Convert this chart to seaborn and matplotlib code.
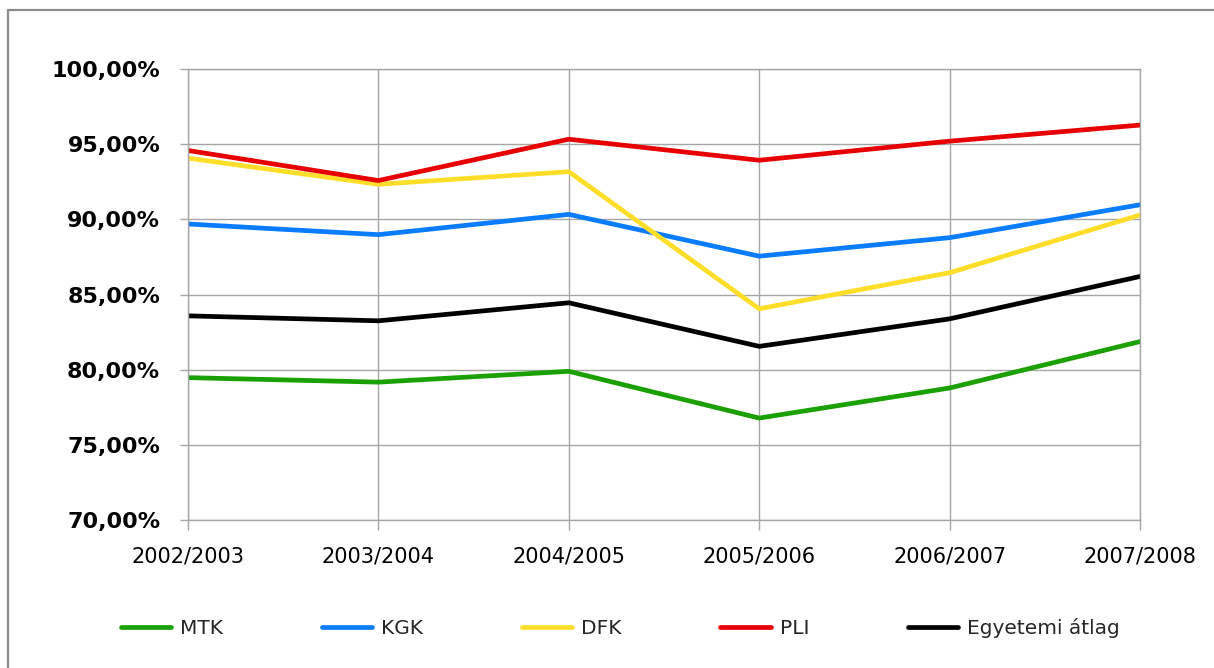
import matplotlib
matplotlib.use("Agg")
import matplotlib.pyplot as plt
import matplotlib.ticker as mticker
from matplotlib.lines import Line2D
import seaborn as sns
import pandas as pd

years = ["2002/2003", "2003/2004", "2004/2005", "2005/2006", "2006/2007", "2007/2008"]
mtk = [79.47, 79.17, 79.89, 76.78, 78.78, 81.87]
kgk = [89.69, 88.98, 90.33, 87.55, 88.78, 90.97]
dfk = [94.07, 92.33, 93.17, 84.05, 86.45, 90.29]
pli = [94.58, 92.58, 95.33, 93.93, 95.20, 96.27]
atlag = [83.58, 83.25, 84.45, 81.55, 83.38, 86.20]

series_names = ["MTK", "KGK", "DFK", "PLI", "Egyetemi átlag"]
series_values = [mtk, kgk, dfk, pli, atlag]
colors = ["#1aa000", "#0a7cff", "#ffde2a", "#e80000", "#000000"]

rows = []
for name, vals in zip(series_names, series_values):
    for i, (y, v) in enumerate(zip(years, vals)):
        rows.append({"pos": i, "year": y, "series": name, "value": v})
df = pd.DataFrame(rows)

sns.set_theme(style="white")
plt.rcParams["font.family"] = ["DejaVu Sans"]

fig = plt.figure(figsize=(12.14, 6.68), dpi=100)
ax = fig.add_axes([188 / 1214, 1 - 520 / 668, (1140 - 188) / 1214, (520 - 69) / 668])

sns.lineplot(data=df, x="pos", y="value", hue="series", hue_order=series_names,
             palette=colors, linewidth=3.4, sort=False, legend=False, ax=ax)

ax.set_xlim(0, len(years) - 1)
ax.set_ylim(70, 100)
ax.set_xticks(range(len(years)))
ax.set_xticklabels(years, fontsize=15)
ax.set_yticks([70, 75, 80, 85, 90, 95, 100])
ax.yaxis.set_major_formatter(mticker.FuncFormatter(lambda v, p: f"{v:.2f}".replace(".", ",") + "%"))
ax.set_xlabel("")
ax.set_ylabel("")

ax.grid(True, color="#a6a6a6", linewidth=1)
ax.set_axisbelow(True)
for s in ax.spines.values():
    s.set_visible(True)
    s.set_color("#a6a6a6")
    s.set_linewidth(1)
ax.tick_params(axis="y", which="major", direction="out", length=6, width=1,
               color="#a6a6a6", left=True, pad=14, labelcolor="black")
ax.tick_params(axis="x", which="major", direction="out", length=7, width=1,
               color="#a6a6a6", bottom=True, pad=12, labelcolor="black")
for lab in ax.get_yticklabels():
    lab.set_fontweight("bold")
    lab.set_fontsize(16)

handles = [Line2D([0], [0], color=c, linewidth=3.4, solid_capstyle="round") for c in colors]
fig.legend(handles, series_names, loc="center", bbox_to_anchor=(0.511, 0.06),
           ncol=5, frameon=False, fontsize=14.5, handlelength=2.5,
           handletextpad=0.45, columnspacing=4.9)

# partial outer frame (top and left)
fig.add_artist(Line2D([8 / 1214, 8 / 1214], [0, 1 - 10 / 668], color="#8c8c8c",
                      linewidth=1.6, transform=fig.transFigure))
fig.add_artist(Line2D([8 / 1214, 1], [1 - 10 / 668, 1 - 10 / 668], color="#8c8c8c",
                      linewidth=1.6, transform=fig.transFigure))

fig.savefig("out.png", dpi=100)
